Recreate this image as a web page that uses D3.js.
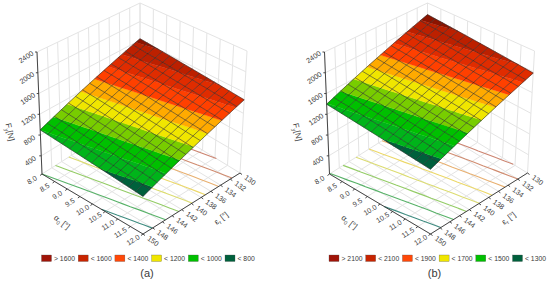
<!DOCTYPE html>
<html>
<head>
<meta charset="utf-8">
<script src="https://cdnjs.cloudflare.com/ajax/libs/d3/7.8.5/d3.min.js"></script>
<style>
  html, body { margin: 0; padding: 0; background: #fff; }
  text { font-family: "Liberation Sans", Arial, sans-serif; fill: #3a3a3a; }
</style>
</head>
<body>
<svg id="chart" width="550" height="282"></svg>
<script>
// axis ticks
var alphaTicks = [8.0, 8.5, 9.0, 9.5, 10.0, 10.5, 11.0, 11.5, 12.0];
var gammaTicks = [130, 132, 134, 136, 138, 140, 142, 144, 146, 148, 150];
var forceTicks = [400, 800, 1200, 1600, 2000, 2400];

// contour levels of each panel
var levelsA = [800, 900, 1000, 1100, 1200, 1300, 1400, 1500, 1600];
var levelsB = [1300, 1400, 1500, 1600, 1700, 1800, 1900, 2000, 2100];

// band colours, low to high, one more than levels
var bandColors = ["#00603c", "#00b41a", "#00c000", "#78cd00", "#f0e600", "#ffaa00", "#ff4000", "#e02c00", "#bc2000", "#8c1400"];
// floor contour line colours, one per level
var lineColors = ["#3f8c80", "#58b268", "#94cc66", "#dcdc70", "#ecd868", "#e8b070", "#d08c70", "#cc8470", "#c07868"];

// legend
var legendA = ["> 1600", "< 1600", "< 1400", "< 1200", "< 1000", "< 800"];
var legendB = ["> 2100", "< 2100", "< 1900", "< 1700", "< 1500", "< 1300"];
var legendColors = ["#a01408", "#c82400", "#ff4808", "#f0e600", "#00c000", "#00603c"];

// surface values, rows = gamma 130..150, columns = alpha 8..12
var surfaceA = [
  [1630, 1618, 1606, 1594, 1581, 1569, 1557, 1545, 1533, 1521, 1509, 1496, 1484, 1472, 1460],
  [1578, 1566, 1554, 1542, 1529, 1517, 1505, 1493, 1481, 1469, 1457, 1444, 1432, 1420, 1408],
  [1526, 1514, 1502, 1490, 1477, 1465, 1453, 1441, 1429, 1417, 1405, 1392, 1380, 1368, 1356],
  [1474, 1462, 1450, 1438, 1425, 1413, 1401, 1389, 1377, 1365, 1353, 1340, 1328, 1316, 1304],
  [1421, 1409, 1397, 1385, 1372, 1360, 1348, 1336, 1324, 1312, 1300, 1287, 1275, 1263, 1251],
  [1369, 1357, 1345, 1333, 1320, 1308, 1296, 1284, 1272, 1260, 1248, 1235, 1223, 1211, 1199],
  [1317, 1305, 1293, 1281, 1268, 1256, 1244, 1232, 1220, 1208, 1196, 1183, 1171, 1159, 1147],
  [1265, 1253, 1241, 1229, 1216, 1204, 1192, 1180, 1168, 1156, 1144, 1131, 1119, 1107, 1095],
  [1213, 1201, 1189, 1177, 1164, 1152, 1140, 1128, 1116, 1104, 1092, 1079, 1067, 1055, 1043],
  [1161, 1149, 1137, 1125, 1112, 1100, 1088, 1076, 1064, 1052, 1040, 1027, 1015, 1003, 991],
  [1109, 1097, 1085, 1073, 1060, 1048, 1036, 1024, 1012, 1000, 988, 975, 963, 951, 939],
  [1056, 1044, 1032, 1020, 1007, 995, 983, 971, 959, 947, 935, 922, 910, 898, 886],
  [1004, 992, 980, 968, 955, 943, 931, 919, 907, 895, 883, 870, 858, 846, 834],
  [952, 940, 928, 916, 903, 891, 879, 867, 855, 843, 831, 818, 806, 794, 782],
  [900, 888, 876, 864, 851, 839, 827, 815, 803, 791, 779, 766, 754, 742, 730]
];
var surfaceB = [
  [2150, 2137, 2125, 2112, 2100, 2087, 2075, 2062, 2050, 2037, 2025, 2012, 2000, 1987, 1975],
  [2096, 2083, 2071, 2058, 2046, 2033, 2021, 2008, 1996, 1983, 1971, 1958, 1946, 1933, 1921],
  [2042, 2029, 2017, 2004, 1992, 1979, 1967, 1954, 1942, 1929, 1917, 1904, 1892, 1879, 1867],
  [1988, 1975, 1963, 1950, 1938, 1925, 1913, 1900, 1888, 1875, 1863, 1850, 1838, 1825, 1813],
  [1934, 1921, 1909, 1896, 1884, 1871, 1859, 1846, 1834, 1821, 1809, 1796, 1784, 1771, 1759],
  [1880, 1867, 1855, 1842, 1830, 1817, 1805, 1792, 1780, 1767, 1755, 1742, 1730, 1717, 1705],
  [1826, 1813, 1801, 1788, 1776, 1763, 1751, 1738, 1726, 1713, 1701, 1688, 1676, 1663, 1651],
  [1772, 1759, 1747, 1734, 1722, 1709, 1697, 1684, 1672, 1659, 1647, 1634, 1622, 1609, 1597],
  [1719, 1706, 1694, 1681, 1669, 1656, 1644, 1631, 1619, 1606, 1594, 1581, 1569, 1556, 1544],
  [1665, 1652, 1640, 1627, 1615, 1602, 1590, 1577, 1565, 1552, 1540, 1527, 1515, 1502, 1490],
  [1611, 1598, 1586, 1573, 1561, 1548, 1536, 1523, 1511, 1498, 1486, 1473, 1461, 1448, 1436],
  [1557, 1544, 1532, 1519, 1507, 1494, 1482, 1469, 1457, 1444, 1432, 1419, 1407, 1394, 1382],
  [1503, 1490, 1478, 1465, 1453, 1440, 1428, 1415, 1403, 1390, 1378, 1365, 1353, 1340, 1328],
  [1449, 1436, 1424, 1411, 1399, 1386, 1374, 1361, 1349, 1336, 1324, 1311, 1299, 1286, 1274],
  [1395, 1382, 1370, 1357, 1345, 1332, 1320, 1307, 1295, 1282, 1270, 1257, 1245, 1232, 1220]
];

var svg = d3.select("#chart");
var pathLine = d3.line();
var cells = 14;

// data -> 0..1 inside the box
var uScale = d3.scaleLinear().domain([8, 12]).range([0, 1]);
var vScale = d3.scaleLinear().domain([130, 150]).range([0, 1]);
var wScale = d3.scaleLinear().domain([50, 2400]).range([0, 1]);
// mesh index -> data
var meshAlpha = d3.scaleLinear().domain([0, cells]).range([8, 12]);
var meshGamma = d3.scaleLinear().domain([0, cells]).range([130, 150]);

function drawPanel(opt) {
  var g = svg.append("g").attr("transform", "translate(" + opt.dx + ",0)");
  var surface = opt.surface, levels = opt.levels;

  // box corners on screen: floor and top, back/right/left/front
  var floor = { b: [140, 112], r: [240, 173], l: [42, 174], f: [143, 234] };
  var top = { b: [140, 3], r: [247, 51], l: [37, 52], f: [143, 104] };

  function project(alpha, gamma, z) {
    var u = uScale(alpha), v = vScale(gamma), w = wScale(z);
    function corner(i) {
      var lo = (1 - u) * (1 - v) * floor.b[i] + u * (1 - v) * floor.r[i] + (1 - u) * v * floor.l[i] + u * v * floor.f[i];
      var hi = (1 - u) * (1 - v) * top.b[i] + u * (1 - v) * top.r[i] + (1 - u) * v * top.l[i] + u * v * top.f[i];
      return lo + (hi - lo) * w;
    }
    return [corner(0), corner(1)];
  }

  var zMin = wScale.domain()[0], zMax = wScale.domain()[1];

  // walls and floor grid
  var grid = g.append("g").attr("fill", "none").attr("stroke", "#e4e4e4").attr("stroke-width", 1);
  function gridLine(pts) { grid.append("path").attr("d", pathLine(pts)); }
  gammaTicks.forEach(function (c) {
    gridLine([project(8, c, zMin), project(8, c, zMax)]);
    gridLine([project(8, c, zMin), project(12, c, zMin)]);
  });
  alphaTicks.forEach(function (a) {
    gridLine([project(a, 130, zMin), project(a, 130, zMax)]);
    gridLine([project(a, 130, zMin), project(a, 150, zMin)]);
  });
  forceTicks.forEach(function (t) {
    gridLine([project(8, 150, t), project(8, 130, t), project(12, 130, t)]);
  });

  function cell(i, j) {
    return [
      { a: meshAlpha(i), c: meshGamma(j), z: surface[j][i] },
      { a: meshAlpha(i + 1), c: meshGamma(j), z: surface[j][i + 1] },
      { a: meshAlpha(i + 1), c: meshGamma(j + 1), z: surface[j + 1][i + 1] },
      { a: meshAlpha(i), c: meshGamma(j + 1), z: surface[j + 1][i] }
    ];
  }

  // contour lines on the floor
  var contour = g.append("g").attr("fill", "none").attr("stroke-width", 1.1);
  levels.forEach(function (lev, k) {
    var d = "";
    for (var j = 0; j < cells; j++) {
      for (var i = 0; i < cells; i++) {
        var quad = cell(i, j), hits = [];
        for (var e = 0; e < 4; e++) {
          var p = quad[e], q = quad[(e + 1) % 4];
          if ((p.z < lev) !== (q.z < lev)) {
            var s = (lev - p.z) / (q.z - p.z);
            hits.push(project(p.a + (q.a - p.a) * s, p.c + (q.c - p.c) * s, zMin));
          }
        }
        if (hits.length === 2) d += pathLine(hits);
      }
    }
    contour.append("path").attr("d", d).attr("stroke", lineColors[k]);
  });

  // keep the part of a cell on one side of a level
  function clip(poly, lev, keepAbove) {
    var out = [];
    poly.forEach(function (p, n) {
      var q = poly[(n + 1) % poly.length];
      var pin = keepAbove ? p.z >= lev : p.z <= lev;
      var qin = keepAbove ? q.z >= lev : q.z <= lev;
      if (pin) out.push(p);
      if (pin !== qin) {
        var s = (lev - p.z) / (q.z - p.z);
        out.push({ a: p.a + (q.a - p.a) * s, c: p.c + (q.c - p.c) * s, z: lev });
      }
    });
    return out;
  }

  // surface bands, back cells first
  var bands = g.append("g");
  for (var j = 0; j < cells; j++) {
    for (var i = 0; i < cells; i++) {
      bandColors.forEach(function (col, b) {
        var poly = cell(i, j);
        if (b > 0) poly = clip(poly, levels[b - 1], true);
        if (b < levels.length && poly.length) poly = clip(poly, levels[b], false);
        if (poly.length < 3) return;
        var pts = poly.map(function (p) { return project(p.a, p.c, p.z); });
        bands.append("path").attr("d", pathLine(pts) + "Z")
          .attr("fill", col).attr("stroke", col).attr("stroke-width", 0.3);
      });
    }
  }

  // mesh
  var mesh = g.append("g").attr("fill", "none").attr("stroke", "#222").attr("stroke-width", 0.65).attr("stroke-opacity", 0.85);
  d3.range(cells + 1).forEach(function (n) {
    mesh.append("path").attr("d", pathLine(d3.range(cells + 1).map(function (m) { return project(meshAlpha(n), meshGamma(m), surface[m][n]); })));
    mesh.append("path").attr("d", pathLine(d3.range(cells + 1).map(function (m) { return project(meshAlpha(m), meshGamma(n), surface[n][m]); })));
  });

  // axes
  var axes = g.append("g").attr("fill", "none").attr("stroke", "#333").attr("stroke-width", 0.9);
  axes.append("path").attr("d", pathLine([project(8, 150, zMax), project(8, 150, zMin), project(12, 150, zMin), project(12, 130, zMin)]));

  var labelFont = 7.2;
  alphaTicks.forEach(function (a) {
    var p = project(a, 150, zMin);
    axes.append("path").attr("d", pathLine([p, [p[0] - 2, p[1] + 1.5]]));
    g.append("text").attr("transform", "translate(" + (p[0] - 10) + "," + (p[1] + 6) + ") rotate(-32)")
      .attr("text-anchor", "middle").attr("dy", "0.35em").attr("font-size", labelFont)
      .text(d3.format(".1f")(a));
  });
  gammaTicks.forEach(function (c) {
    var p = project(12, c, zMin);
    axes.append("path").attr("d", pathLine([p, [p[0] + 2, p[1] + 1.5]]));
    g.append("text").attr("transform", "translate(" + (p[0] + 10) + "," + (p[1] + 7) + ") rotate(36)")
      .attr("text-anchor", "middle").attr("dy", "0.35em").attr("font-size", labelFont)
      .text(c);
  });
  forceTicks.forEach(function (t) {
    var p = project(8, 150, t);
    axes.append("path").attr("d", pathLine([p, [p[0] - 2, p[1]]]));
    g.append("text").attr("transform", "translate(" + (p[0] - 11) + "," + (p[1] + 5) + ") rotate(-34)")
      .attr("text-anchor", "middle").attr("dy", "0.35em").attr("font-size", labelFont)
      .text(t);
  });

  // axis titles
  function title(x, y, rot, main, sub, rest) {
    var t = g.append("text").attr("transform", "translate(" + x + "," + y + ") rotate(" + rot + ")")
      .attr("text-anchor", "middle").attr("dy", "0.35em").attr("font-size", 8);
    t.append("tspan").text(main);
    t.append("tspan").attr("font-size", 5.5).attr("dy", 2).text(sub);
    t.append("tspan").attr("dy", -2).text(rest);
  }
  title(10, 132, 78, "F", "y", "[N]");
  title(62, 222, 38, "\u03b1", "0", " [\u00b0]");
  title(221, 218, -38, "\u03b5", "r", " [\u00b0]");

  // legend
  opt.legend.forEach(function (txt, n) {
    var x = opt.legendX + n * 36.7;
    g.append("rect").attr("x", x).attr("y", 255).attr("width", 10).attr("height", 6.5)
      .attr("fill", legendColors[n]).attr("stroke", "#555").attr("stroke-width", 0.3);
    g.append("text").attr("x", x + 12.5).attr("y", 258.5).attr("dy", "0.35em")
      .attr("font-size", 6.8).text(txt);
  });

  g.append("text").attr("x", opt.captionX).attr("y", 273).attr("text-anchor", "middle")
    .attr("dy", "0.35em").attr("font-size", 11).text(opt.caption);
}

drawPanel({ dx: 0, surface: surfaceA, levels: levelsA, legend: legendA, legendX: 41.5, captionX: 147, caption: "(a)" });
drawPanel({ dx: 287.5, surface: surfaceB, levels: levelsB, legend: legendB, legendX: 41.5, captionX: 147, caption: "(b)" });
</script>
</body>
</html>
